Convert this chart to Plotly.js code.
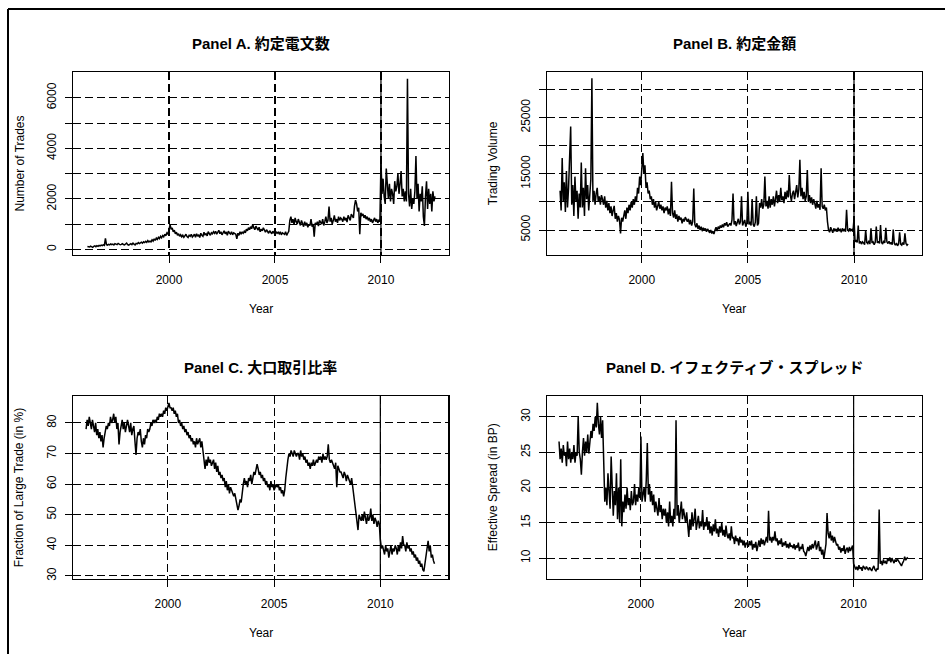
<!DOCTYPE html>
<html>
<head>
<meta charset="utf-8">
<script src="https://cdn.plot.ly/plotly-3.0.1.min.js"></script>
<style>
html,body{margin:0;padding:0;background:#fff;}
#chart{width:945px;height:654px;}
</style>
</head>
<body>
<div id="chart"></div>
<script>
const seriesStart = 1996.15;
const seriesStep = 0.05;

const panelTitles = ["Panel A. 約定電文数", "Panel B. 約定金額", "Panel C. 大口取引比率", "Panel D. イフェクティブ・スプレッド"];
const yTitles = ["Number of Trades", "Trading Volume", "Fraction of Large Trade (in %)", "Effective Spread (in BP)"];
const xTickVals = [2000, 2005, 2010];
const xTickText = ["2000", "2005", "2010"];

const yTickValsA = [0, 1000, 2000, 3000, 4000, 5000, 6000];
const yTickTextA = ["0", "", "2000", "", "4000", "", "6000"];
const yTickValsB = [5000, 10000, 15000, 20000, 25000, 30000];
const yTickTextB = ["5000", "", "15000", "", "25000", ""];
const yTickValsC = [30, 40, 50, 60, 70, 80];
const yTickTextC = ["30", "40", "50", "60", "70", "80"];
const yTickValsD = [10, 15, 20, 25, 30];
const yTickTextD = ["10", "15", "20", "25", "30"];

const numberOfTrades = [
 120,110,95,130,100,85,120,140,110,150,125,160,140,170,150,180,160,440,190,170,
 200,180,220,190,210,175,230,200,190,240,210,185,200,230,195,180,215,250,190,170,
 200,230,190,250,210,180,240,220,270,230,260,290,250,300,270,320,280,350,300,330,
 300,380,330,420,360,450,400,480,430,520,460,550,500,600,540,650,600,750,980,800,
 850,700,760,620,680,560,620,520,580,500,560,480,540,600,510,470,560,520,600,490,
 540,600,480,620,520,580,470,640,560,520,680,580,620,540,700,600,560,660,620,700,
 640,720,600,680,760,620,700,580,660,740,620,690,560,720,650,610,700,580,660,620,
 600,420,640,560,700,620,680,640,720,660,800,740,860,780,900,820,1000,860,780,920,
 820,760,880,700,800,740,860,720,680,780,700,640,740,680,620,720,660,600,700,640,
 680,620,700,580,660,640,600,700,560,640,720,1150,1300,1050,1200,980,1250,1100,1000,1200,
 1050,950,1150,1000,900,1100,950,1050,880,1000,940,1200,900,1000,500,1050,980,1100,920,1150,
 1050,1000,1200,950,1100,1300,1050,1150,1700,1100,1250,1000,1150,1350,1100,1200,1050,1300,1150,1250,
 1200,1100,1300,1150,1250,1080,1350,1200,1150,1400,1300,1250,1700,1950,1800,1500,1650,600,1450,1350,
 1400,1250,1350,1200,1300,1150,1250,1100,1200,1050,1150,1250,1100,1200,1050,1150,1100,3500,2200,2800,
 2100,1800,3200,2300,2000,2600,1900,2400,2200,1800,2700,2300,2500,3000,2200,2600,3100,2100,2400,1900,
 2300,1900,6750,2200,1700,2400,1600,2000,1800,2300,3700,2000,2600,1500,2200,1900,2500,1300,930,2100,
 2700,1600,2400,1800,2200,1500,2300,1900,2100
];

const tradingVolume = [
 12000,8500,17800,10000,13500,8200,15500,9000,12500,17500,23400,9500,13000,7500,14500,10000,12000,7000,11500,9000,
 17000,9000,12500,7500,16000,10500,13000,8500,11500,14000,32000,10000,12000,9500,11500,12500,10000,11000,9500,11200,
 10500,9500,11000,9000,10200,8500,9800,8000,9200,7500,8500,9300,7000,8000,6500,7500,6800,4400,7200,6500,
 7500,8500,7000,9000,8000,9500,8500,10000,9000,10500,9500,11000,10000,12500,11500,14500,13000,15500,18700,15000,
 16500,12500,13500,11500,12000,10500,11000,9500,10500,9000,10000,8500,9500,10000,8800,9500,8500,9200,8000,9000,
 8500,9200,7800,8800,7500,13600,8000,7200,8500,7000,7800,6500,7500,6800,7200,6200,7000,6500,7300,6800,
 6500,7000,6000,6800,5800,6500,12400,6000,5500,6200,5200,5800,5000,5600,4800,5400,5000,5300,4700,5200,
 4800,4500,5000,4400,4800,4300,5000,5500,4800,5600,5200,5800,5400,6000,5500,6200,5800,6400,5600,6000,
 6200,5800,6800,11500,6000,6600,5700,6400,7000,6000,6500,11000,5800,6300,6800,5600,6200,11800,6000,6500,
 5800,10500,6000,5600,6400,11000,5800,6200,9800,9000,10500,8800,9500,14500,9200,10200,8800,11000,9000,10500,
 9500,11000,9200,10500,12000,9800,11200,10000,12500,10300,11000,9800,11800,10500,12000,10800,14800,11200,10200,11500,
 12000,10500,11500,13000,10800,12200,17500,11000,12500,10500,11800,10200,11000,15700,10000,11200,9800,10800,9500,10500,
 9800,8800,10200,9000,9600,8600,16000,9200,8800,9500,8500,9000,6500,5000,4600,5500,5000,4500,5300,4800,
 5200,4700,5400,4900,5100,4600,5300,4800,5200,4700,8600,5000,4800,5300,4900,5100,4700,7000,2900,3200,
 2800,5800,2600,3000,2500,2900,2700,2400,5000,2800,2600,3100,2500,5300,2700,2900,2400,2800,5600,2700,
 3000,2600,5900,2800,2500,3100,2700,5400,2900,2600,3000,2500,2800,2400,5100,2600,2300,2700,2200,2500,
 4600,2500,2300,2800,2400,4400,2600,2300,2500
];

const largeTradeFraction = [
 78,81,79,82,80,78,81,79,77,80,76,78,75,77,74,76,72,75,77,79,
 78,80,79,82,80,81,83,80,82,78,80,73,77,79,81,78,80,77,79,81,
 79,77,80,76,78,79,74,69.5,75,77,76,78,74,72,75,73,76,75,78,77,
 78,80,79,81,80,81,80,82,81,83,82,83,82,84,83,85,84,85,86.5,85,
 85,84,85,83,84,82,83,80,81,79,80,78,79,77,78,76,77,75,76,74,
 75,73,74,72,75,73,74,75,72,74,71,68,65,68,66,69,67,68,66,67,
 68,65,67,64,66,63,64,62,63,61,62,59,61,58,60,57,59,58,57,56,
 57,55,54,51.5,53,55,54,58,60,62,60,61,59,62,61,63,60,62,64,63,
 65,66.5,65,63,64,62,63,61,62,60,61,59,60,58,61,59,60,58,59,60,
 59,60,58,59,57,58,56,58,62,66,68,70,69,71,70,69,71,70,69,70,
 70,68,71,69,70,68,69,67,68,66,67,65,67,66,68,66,67,68,67,69,
 68,69,67,70,68,69,68,69,73,68,67,68,67,66,65,67,59,66,65,64,
 64,63,62,64,63,61,63,62,61,60,62,59,58,55,52,48,45,50,49,48,
 50,48,51,49,47,50,48,49,52,48,50,47,49,48,46,48,47,42,39,40,
 38,37,40,38,39,36,38,40,37,39,38,40,39,37,40,38,41,39,43,40,
 40,38,41,39,40,38,39,37,38,36,37,35,36,34,35,33,34,32,31.5,34,
 36,39,41.5,38,40,36,37,35,34
];

const effectiveSpread = [
 26.5,24,25.5,23.5,26,24.5,25,23,26.5,24,25.5,23.5,25,24,26,23.5,25,24.5,30,25,
 24,21.8,25,27,24.5,26.5,25,27.5,24.8,26,28,27,29,28,30,28.5,32,29,27.5,30,
 27,29.5,21,18,20,17.5,22,19,17,24.4,21,16,19.5,17.5,22,15.5,20,15,24,14.5,
 18,16.5,19,17,20,17.5,18.5,16.8,19.5,17.5,18,20.5,17.5,19,18,20,18.5,27.2,18,19.5,
 20,18,21,26.3,19,20.5,18,19.5,17.5,19,16.5,18,17,16,18.5,16.5,17.5,15.5,17,16,
 17,15,16.5,14.5,18,15,16,14.5,17,15.5,29.5,16,17.5,15,16.5,18,15.5,17,16,15,
 16.5,15,13,15.5,14,16.5,14.5,15.5,17,14,15,16,14.2,15.2,14.5,16.8,14,15,14.5,15.8,
 14,15.2,13.5,14.5,13.2,14.8,13.8,15.5,13.5,14.2,13,14.5,13.6,15,13.2,14,13,14.6,13.3,12.8,
 13.5,12.5,14.5,12.8,13,12,13.2,12.4,12.8,11.8,13,12.2,12.6,11.8,12.5,11.5,12.2,12,11.6,12.4,
 11.8,12.5,11.2,12,11.5,12.3,11,11.8,12.5,11.6,12.8,12,12.6,11.8,12.4,13,12.2,16.7,12.5,13,
 12.2,13,12.5,13.8,12.4,12.8,11.8,12.5,12,12.8,11.6,12.2,11.8,12.4,11.5,12,11.4,12.2,11.6,11.8,
 11.4,12,11.2,11.8,11.5,12.2,11,11.6,11.3,12,11,10.8,10.3,11.2,11.6,11,11.8,11.2,12,11.4,
 11.8,12.5,11.2,11.8,12.4,11,11.6,10.5,11.2,9.9,11,12,16.4,13.5,12.8,13.8,12.5,13.2,12.2,13,
 12.4,11.8,12,11.2,11.6,10.8,11.4,11,11.8,10.6,11.2,11.5,10.8,11.6,11,11.4,11.8,9.2,8.7,8.4,
 8.8,8.3,9,8.5,8.7,8.2,8.9,8.6,8.4,8.8,8.5,8.3,8.7,8.5,8.2,8.6,8.9,8.4,8.2,8.5,
 8.4,16.9,9.2,9.6,9,9.8,9.3,9.5,9.2,10,9.6,10.1,9.4,10,9.7,9.3,9.8,9.5,9.9,9.6,
 9.5,9.2,8.9,9.3,9.6,10.2,9.7,10,10.1
];

// ---- chart ----
function dateIndex(n) {
  const out = [];
  for (let i = 0; i < n; i++) out.push(+(seriesStart + i * seriesStep).toFixed(3));
  return out;
}

const FONT = "'Liberation Sans', Arial, 'Noto Sans CJK JP', sans-serif";
const W = 945, H = 654;
const px = v => v / W;
const py = v => 1 - v / H;

const panels = [
  {y: numberOfTrades, xd: [73, 449], yd: [72, 255], xr: [1995.47, 2013.21], yr: [-220, 7020], tv: yTickValsA, tt: yTickTextA},
  {y: tradingVolume, xd: [546.7, 921.7], yd: [72, 255], xr: [1995.52, 2013.19], yr: [560, 33120], tv: yTickValsB, tt: yTickTextB},
  {y: largeTradeFraction, xd: [72.7, 448.3], yd: [396, 579], xr: [1995.52, 2013.2], yr: [29.0, 88.8], tv: yTickValsC, tt: yTickTextC},
  {y: effectiveSpread, xd: [546.7, 921.7], yd: [396, 579], xr: [1995.57, 2013.2], yr: [7.05, 32.95], tv: yTickValsD, tt: yTickTextD}
];

const traces = [];
const layout = {
  width: W, height: H,
  margin: {l: 0, r: 0, t: 0, b: 0},
  paper_bgcolor: "#fff", plot_bgcolor: "#fff",
  showlegend: false,
  font: {family: FONT, size: 12, color: "#000"},
  shapes: [], annotations: []
};

const gridDash = "8px,4px";

panels.forEach((p, k) => {
  const n = k + 1;
  const xa = "xaxis" + (n === 1 ? "" : n), ya = "yaxis" + (n === 1 ? "" : n);
  const xr = "x" + (n === 1 ? "" : n), yr = "y" + (n === 1 ? "" : n);
  traces.push({
    type: "scatter", mode: "lines", x: dateIndex(p.y.length), y: p.y,
    xaxis: xr, yaxis: yr, line: {color: "#000", width: 1.5}, hoverinfo: "skip"
  });
  layout[xa] = {
    domain: [px(p.xd[0]), px(p.xd[1])], range: p.xr, anchor: yr,
    tickmode: "array", tickvals: xTickVals, ticktext: xTickText,
    ticks: "outside", ticklen: 7, tickcolor: "#000", tickwidth: 1,
    ticklabelstandoff: 6,
    showgrid: true, gridcolor: "#000", gridwidth: 1.1, griddash: gridDash,
    showline: true, mirror: true, linecolor: "#000", linewidth: 1.2,
    zeroline: false, tickfont: {family: FONT, size: 12, color: "#000"}
  };
  layout[ya] = {
    domain: [py(p.yd[1]), py(p.yd[0])], range: p.yr, anchor: xr,
    tickmode: "array", tickvals: p.tv, ticktext: p.tt, tickangle: -90,
    ticks: "outside", ticklen: 7, tickcolor: "#000", tickwidth: 1,
    ticklabelstandoff: 4,
    showgrid: true, gridcolor: "#000", gridwidth: 1.1, griddash: gridDash,
    showline: true, mirror: true, linecolor: "#000", linewidth: 1.2,
    zeroline: false, tickfont: {family: FONT, size: 12, color: "#000"}
  };
  // solid reference line at 2010
  layout.shapes.push({
    type: "line", xref: xr, yref: yr + " domain", x0: 2010, x1: 2010, y0: 0, y1: 1,
    line: {color: "#000", width: 1.2}
  });
  const cx = (p.xd[0] + p.xd[1]) / 2;
  layout.annotations.push({
    text: "<b>" + panelTitles[k] + "</b>", xref: "paper", yref: "paper",
    x: px(cx), y: py(p.yd[0] - 29), xanchor: "center", yanchor: "middle",
    showarrow: false, font: {family: FONT, size: 15, color: "#000"}
  });
  layout.annotations.push({
    text: "Year", xref: "paper", yref: "paper",
    x: px(cx), y: py(p.yd[1] + 54), xanchor: "center", yanchor: "middle",
    showarrow: false, font: {family: FONT, size: 12, color: "#000"}
  });
  layout.annotations.push({
    text: yTitles[k], xref: "paper", yref: "paper", textangle: -90,
    x: px(p.xd[0] - 54), y: py((p.yd[0] + p.yd[1]) / 2 + 0), xanchor: "center", yanchor: "middle",
    showarrow: false, font: {family: FONT, size: 12, color: "#000"}
  });
});

// outer frame (top and left edges visible in the reference)
layout.shapes.push({type: "line", xref: "paper", yref: "paper", x0: px(8), x1: 1, y0: py(9), y1: py(9), line: {color: "#000", width: 2}});
layout.shapes.push({type: "line", xref: "paper", yref: "paper", x0: px(8), x1: px(8), y0: 0, y1: py(9), line: {color: "#000", width: 2}});

Plotly.newPlot("chart", traces, layout, {staticPlot: true, displayModeBar: false});
</script>
</body>
</html>
